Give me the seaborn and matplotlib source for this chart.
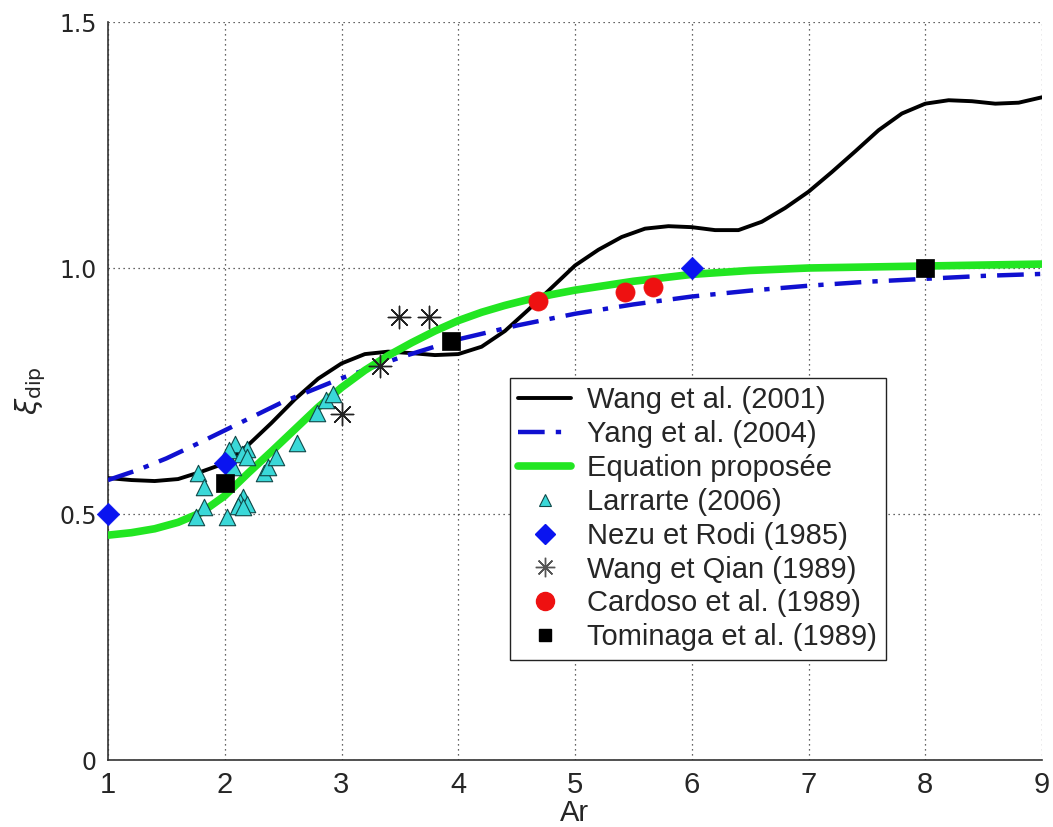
import numpy as np
import pandas as pd
import matplotlib
matplotlib.use("Agg")
import matplotlib.pyplot as plt
from matplotlib.lines import Line2D
from matplotlib import font_manager as fm
import seaborn as sns

# ---------------- data ----------------
wang_x = [1.0, 1.2, 1.4, 1.6, 1.8, 2.0, 2.2, 2.4, 2.6, 2.8, 3.0, 3.2, 3.4, 3.6, 3.8,
          4.0, 4.2, 4.4, 4.6, 4.8, 5.0, 5.2, 5.4, 5.6, 5.8, 6.0, 6.2, 6.4, 6.6, 6.8,
          7.0, 7.2, 7.4, 7.6, 7.8, 8.0, 8.2, 8.4, 8.6, 8.8, 9.0]
wang_y = [0.573, 0.569, 0.567, 0.571, 0.586, 0.603, 0.640, 0.685, 0.733, 0.775, 0.806,
          0.825, 0.830, 0.827, 0.823, 0.825, 0.840, 0.872, 0.915, 0.960, 1.005, 1.037,
          1.063, 1.080, 1.085, 1.083, 1.077, 1.077, 1.094, 1.122, 1.155, 1.195, 1.237,
          1.280, 1.314, 1.334, 1.341, 1.339, 1.334, 1.336, 1.347]

yang_x = [1.0, 1.25, 1.5, 1.75, 2.0, 2.5, 3.0, 3.5, 4.0, 4.5, 5.0, 5.5, 6.0, 6.5,
          7.0, 7.5, 8.0, 8.5, 9.0]
yang_y = [0.569, 0.589, 0.613, 0.641, 0.670, 0.728, 0.776, 0.818, 0.855, 0.883, 0.907,
          0.926, 0.942, 0.954, 0.964, 0.972, 0.978, 0.984, 0.988]

eq_x = [1.0, 1.2, 1.4, 1.6, 1.8, 2.0, 2.2, 2.4, 2.6, 2.8, 3.0, 3.2, 3.4, 3.6, 3.8,
        4.0, 4.2, 4.4, 4.6, 4.8, 5.0, 5.5, 6.0, 6.5, 7.0, 7.5, 8.0, 8.5, 9.0]
eq_y = [0.457, 0.462, 0.470, 0.483, 0.503, 0.537, 0.583, 0.627, 0.672, 0.717, 0.757,
        0.792, 0.822, 0.848, 0.872, 0.893, 0.910, 0.924, 0.936, 0.946, 0.955, 0.973,
        0.987, 0.995, 1.000, 1.002, 1.004, 1.006, 1.008]

larr_x = [1.77, 1.82, 1.82, 1.75, 2.02, 2.09, 2.04, 2.19, 2.15, 2.19, 2.07, 2.16, 2.13,
          2.19, 2.11, 2.16, 2.34, 2.37, 2.44, 2.62, 2.79, 2.87, 2.93]
larr_y = [0.584, 0.554, 0.515, 0.494, 0.494, 0.643, 0.630, 0.633, 0.622, 0.615, 0.595,
          0.535, 0.525, 0.521, 0.516, 0.514, 0.583, 0.595, 0.615, 0.645, 0.705, 0.732,
          0.744]

nezu_x = [1.0, 2.0, 6.0]
nezu_y = [0.500, 0.603, 1.000]

wq_x = [3.0, 3.33, 3.49, 3.75]
wq_y = [0.703, 0.801, 0.901, 0.901]

card_x = [4.68, 5.43, 5.67]
card_y = [0.932, 0.952, 0.962]

tom_x = [2.0, 3.94, 8.0]
tom_y = [0.562, 0.852, 1.000]

labels = ["Wang et al. (2001)", "Yang et al. (2004)", "Equation proposée",
          "Larrarte (2006)", "Nezu et Rodi (1985)", "Wang et Qian (1989)",
          "Cardoso et al. (1989)", "Tominaga et al. (1989)"]
xticks = [1, 2, 3, 4, 5, 6, 7, 8, 9]
yticks = [0, 0.5, 1.0, 1.5]
yticklabels = ["0", "0.5", "1.0", "1.5"]

# ---------------- style ----------------
sns.set_theme(style="white")
avail = {f.name for f in fm.fontManager.ttflist}
main_font = "Liberation Sans" if "Liberation Sans" in avail else "DejaVu Sans"
narrow_font = "Liberation Sans Narrow" if "Liberation Sans Narrow" in avail else main_font
plt.rcParams["font.family"] = [main_font, "DejaVu Sans"]

fig = plt.figure(figsize=(10.53, 8.27), dpi=100)
ax = fig.add_axes([108 / 1053, 1 - 760 / 827, 934 / 1053, 738 / 827])

c_black = "#000000"
c_blue = "#1010D0"
c_green = "#22E622"
c_cyan = "#3AD8D8"
c_dblue = "#0A14F0"
c_red = "#EE1111"
dash = [6, 2.5, 1.2, 2.5]

sns.lineplot(x=wang_x, y=wang_y, ax=ax, color=c_black, lw=2.8, zorder=3)
sns.lineplot(x=yang_x, y=yang_y, ax=ax, color=c_blue, lw=3.2, zorder=4)
ax.lines[-1].set_dashes(dash)
sns.lineplot(x=eq_x, y=eq_y, ax=ax, color=c_green, lw=5.5, zorder=5)

sns.scatterplot(x=larr_x, y=larr_y, ax=ax, marker="^", s=140, color=c_cyan,
                edgecolor="#104848", linewidth=0.8, zorder=6)
sns.scatterplot(x=nezu_x, y=nezu_y, ax=ax, marker="D", s=130, color=c_dblue,
                edgecolor=c_dblue, linewidth=0.5, zorder=7, clip_on=False)
sns.scatterplot(x=wq_x, y=wq_y, ax=ax, marker=(8, 2, 0), s=260, color="#222222",
                linewidth=1.0, zorder=7)
sns.scatterplot(x=card_x, y=card_y, ax=ax, marker="o", s=190, color=c_red,
                edgecolor=c_red, linewidth=0.5, zorder=7)
sns.scatterplot(x=tom_x, y=tom_y, ax=ax, marker="s", s=150, color="#000000",
                edgecolor="#000000", linewidth=0.5, zorder=7)

ax.set_xlim(1, 9)
ax.set_ylim(0, 1.5)
ax.set_xticks(xticks)
ax.set_xticklabels([str(t) for t in xticks], fontfamily=narrow_font, fontsize=21)
ax.set_yticks(yticks)
ax.set_yticklabels(yticklabels, fontfamily="DejaVu Sans", fontsize=17)
ax.tick_params(axis="both", direction="in", length=6, width=1, color="#333333",
               pad=8)
ax.set_xlabel("Ar", fontfamily=narrow_font, fontsize=21, labelpad=0)
ax.set_ylabel(r"$\xi_{\mathrm{dip}}$", fontsize=21, labelpad=8)

ax.grid(True, linestyle=(0, (1, 3)), color="#333333", linewidth=0.9)
ax.set_axisbelow(True)
for side in ["top", "right"]:
    ax.spines[side].set_visible(False)
for side in ["left", "bottom"]:
    ax.spines[side].set_color("#333333")
    ax.spines[side].set_linewidth(1.2)

handles = [
    Line2D([], [], color=c_black, lw=2.8),
    Line2D([], [], color=c_blue, lw=3.2, dashes=dash),
    Line2D([], [], color=c_green, lw=5.5),
    Line2D([], [], ls="none", marker="^", ms=9, mfc=c_cyan, mec="#104848", mew=0.8),
    Line2D([], [], ls="none", marker="D", ms=10, mfc=c_dblue, mec=c_dblue),
    Line2D([], [], ls="none", marker=(8, 2, 0), ms=14, color="#555555", mew=1.0),
    Line2D([], [], ls="none", marker="o", ms=13, mfc=c_red, mec=c_red),
    Line2D([], [], ls="none", marker="s", ms=9, mfc="#000000", mec="#000000"),
]
leg = ax.legend(handles, labels, loc="upper left", bbox_to_anchor=(0.430, 0.518),
                fontsize=21, frameon=True, fancybox=False, framealpha=1,
                edgecolor="#222222", handlelength=1.8, handletextpad=0.55,
                labelspacing=0.2, borderpad=0.3, borderaxespad=0)
leg.get_frame().set_linewidth(1.0)
leg.set_zorder(10)

fig.savefig("out.png", dpi=100)
